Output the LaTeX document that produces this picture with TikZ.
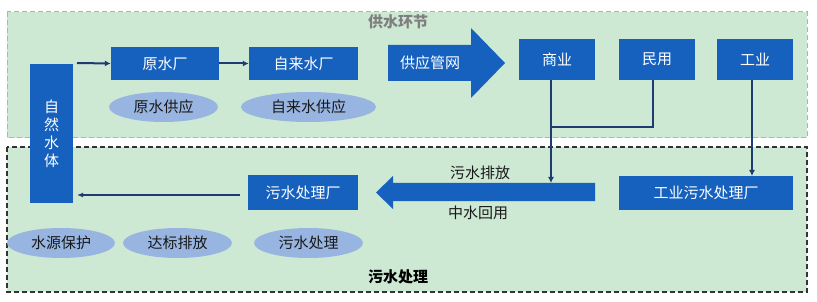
\documentclass[tikz,border=0pt]{standalone}
\usepackage{fontspec}
\setmainfont{Noto Sans CJK SC}
\usetikzlibrary{arrows.meta,shapes.geometric}
\definecolor{boxblue}{HTML}{1661BE}
\definecolor{navy}{HTML}{1F3C72}
\definecolor{ellfill}{HTML}{97B5E0}
\definecolor{bggreen}{HTML}{CDE8D3}
\definecolor{topborder}{HTML}{9DBFA5}
\definecolor{titlegray}{HTML}{7F7F7F}
\begin{document}
\begin{tikzpicture}[x=1pt,y=-1pt,
  every node/.style={font=\fontsize{15}{18}\selectfont},
  bbox/.style={fill=boxblue,text=white,inner sep=0pt},
  ell/.style={ellipse,fill=ellfill,text=black!90,inner sep=0pt},
  arr/.style={draw=navy,line width=2pt,-{Latex[length=6pt,width=6pt]}},
  conn/.style={draw=navy,line width=2pt}]
\useasboundingbox (0,0) rectangle (817,302);
% regions
\draw[fill=bggreen,draw=topborder,dash pattern=on 5pt off 3pt,line width=1pt] (7,12) rectangle (807,138);
\draw[fill=bggreen,draw=black!80,dash pattern=on 5pt off 3pt,line width=1.4pt] (7,147) rectangle (807,292);
\node[text=titlegray,font=\fontsize{15}{18}\selectfont\bfseries] (t1) at (398,22) {供水环节};
\node[text=black,font=\fontsize{15}{18}\selectfont\bfseries] (t2) at (398,277) {污水处理};
% boxes
\node[bbox,minimum width=43pt,minimum height=139pt,align=center] (ziran) at (51.5,133.5) {自\\然\\水\\体};
\node[bbox,minimum width=108pt,minimum height=33pt] (yuan) at (165,63.5) {原水厂};
\node[bbox,minimum width=109pt,minimum height=33pt] (zilai) at (303.5,63.5) {自来水厂};
\node[bbox,minimum width=76pt,minimum height=41pt] (shang) at (557,59.5) {商业};
\node[bbox,minimum width=76pt,minimum height=41pt] (min) at (657,59.5) {民用};
\node[bbox,minimum width=76pt,minimum height=41pt] (gong) at (755,59.5) {工业};
\node[bbox,minimum width=174pt,minimum height=34pt] (gysc) at (706,193) {工业污水处理厂};
\node[bbox,minimum width=110pt,minimum height=35pt] (wscl) at (303,192.5) {污水处理厂};
% ellipses
\node[ell,minimum width=109pt,minimum height=30pt] (e1) at (163.5,107) {原水供应};
\node[ell,minimum width=135pt,minimum height=30pt] (e2) at (308.5,107) {自来水供应};
\node[ell,minimum width=108pt,minimum height=30pt] (e3) at (61,243) {水源保护};
\node[ell,minimum width=109pt,minimum height=30pt] (e4) at (177.5,243) {达标排放};
\node[ell,minimum width=109pt,minimum height=30pt] (e5) at (308.5,243) {污水处理};
% big arrows
\fill[boxblue] (388,45) -- (471,45) -- (471,28) -- (505,63) -- (471,98) -- (471,81) -- (388,81) -- cycle;
\node[text=white] (gw) at (430,63) {供应管网};
\fill[boxblue] (595,183) -- (393,183) -- (393,176) -- (376,192.5) -- (393,209) -- (393,201) -- (595,201) -- cycle;
\node[text=black!90] (pf) at (480,173) {污水排放};
\node[text=black!90] (hy) at (478,213) {中水回用};
% connectors
\coordinate (s1) at (77,63);
\draw[arr] (s1) -- (yuan.west);
\draw[arr] (yuan.east) -- (zilai.west);
\coordinate (sy) at (551,80);
\coordinate (sye) at (551,183);
\draw[arr] (sy) -- (sye);
\coordinate (my) at (653,80);
\coordinate (mj) at (551,127);
\draw[conn] (my) |- (mj);
\coordinate (gy) at (752,80);
\coordinate (gye) at (752,176);
\draw[arr] (gy) -- (gye);
\coordinate (wsl) at (240,195);
\coordinate (zr) at (77,195);
\draw[draw=navy,line width=1.3pt,-{Latex[length=6pt,width=5pt]}] (wsl) -- (zr);
\end{tikzpicture}
\end{document}
